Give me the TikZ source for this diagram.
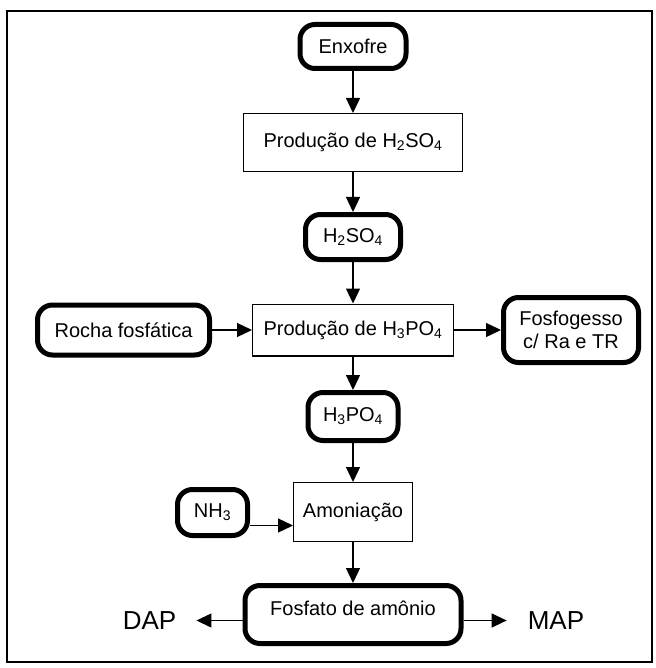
\documentclass[tikz,border=0pt]{standalone}
\usepackage{fontspec}
\setmainfont{Liberation Sans}
\usetikzlibrary{arrows.meta,calc}
\begin{document}
\begin{tikzpicture}[x=1pt,y=-1pt,
  every node/.style={font=\fontsize{20pt}{23pt}\selectfont, inner sep=0pt, align=center},
  proc/.style={draw, line width=1.2pt},
  term/.style={draw, line width=5pt, rounded corners=15pt},
  arr/.style={line width=1.3pt, -{Triangle[length=15pt,width=14pt]}},
  big/.style={font=\fontsize{26pt}{30pt}\selectfont}]
\useasboundingbox (0,0) rectangle (655,668);
\draw[line width=2pt] (7,11) rectangle (652,662);
\node[term, minimum width=106pt, minimum height=44pt] (enx) at (353,46.5) {Enxofre};
\node[proc, minimum width=218.8pt, minimum height=57.8pt] (ph2) at (353,142.5) {Produção de H\textsubscript{2}SO\textsubscript{4}};
\node[term, minimum width=95pt, minimum height=45pt] (h2) at (353,237) {H\textsubscript{2}SO\textsubscript{4}};
\node[proc, minimum width=200.8pt, minimum height=51.8pt] (ph3) at (353,330) {Produção de H\textsubscript{3}PO\textsubscript{4}};
\node[term, minimum width=172pt, minimum height=50pt] (rocha) at (123.5,330) {Rocha fosfática};
\node[term, minimum width=135pt, minimum height=65pt] (fosf) at (571,330) {Fosfogesso\\c/ Ra e TR};
\node[term, minimum width=90pt, minimum height=48pt] (h3) at (353,416.5) {H\textsubscript{3}PO\textsubscript{4}};
\node[term, minimum width=70pt, minimum height=46pt] (nh3) at (212.5,512.5) {NH\textsubscript{3}};
\node[proc, minimum width=118.8pt, minimum height=58.8pt] (amon) at (353,512) {Amoniação};
\node[term, minimum width=216pt, minimum height=58pt, text height=14pt, text depth=13pt] (faf) at (353,614.5) {Fosfato de amônio};
\node[big] (dap) at (149.5,620.5) {DAP};
\node[big] (map) at (556,620.5) {MAP};
\draw[arr] (enx) -- (ph2);
\draw[arr] (ph2) -- (h2);
\draw[arr] (h2) -- (ph3);
\draw[arr] (rocha) -- (ph3);
\draw[arr] (ph3) -- (fosf);
\draw[arr] (ph3) -- (h3);
\draw[arr] (h3) -- (amon);
\coordinate (nh3o) at ([yshift=-13pt]nh3.east);
\draw[arr] (nh3o) -- (nh3o -| amon.west);
\draw[arr] (amon) -- (faf);
\coordinate (fl) at ([yshift=-6pt]faf.west);
\coordinate (fr) at ([yshift=-6pt]faf.east);
\draw[arr, shorten >=20pt] (fl) -- (dap.east |- fl);
\draw[arr, shorten >=21pt] (fr) -- (map.west |- fr);
\end{tikzpicture}
\end{document}
